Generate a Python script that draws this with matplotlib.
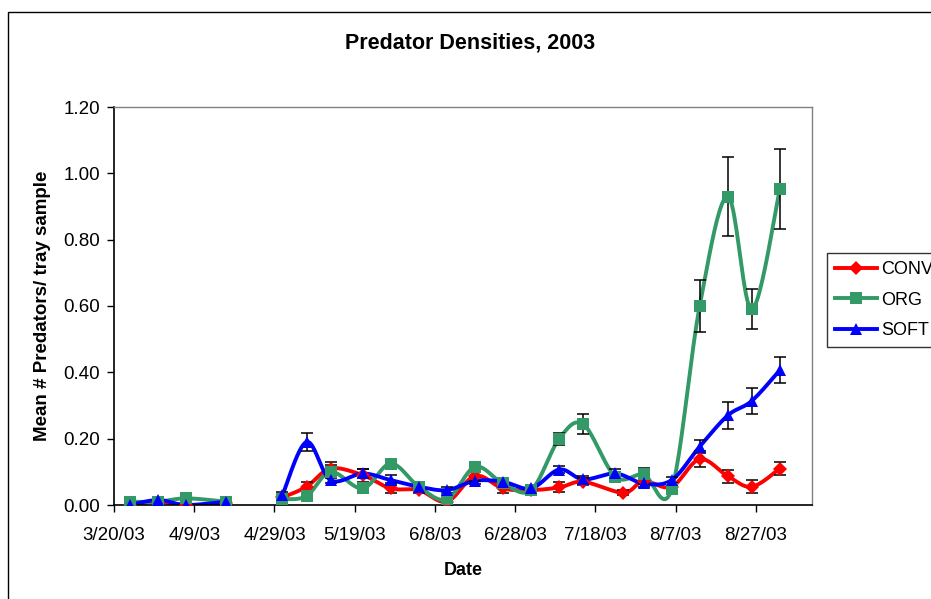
#!/usr/bin/env python3
"""Predator densities by sampling date, 2003 (smoothed lines with SE bars)."""

from datetime import date

import matplotlib.pyplot as plt
import matplotlib.dates as mdates
import numpy as np

plt.rcParams["font.family"] = ["Liberation Sans", "DejaVu Sans"]

# sampling dates (None marks the break in sampling between mid-April and May)
sample_dates = [
    date(2003, 3, 24), date(2003, 3, 31), date(2003, 4, 7), date(2003, 4, 17), None,
    date(2003, 5, 1), date(2003, 5, 7), date(2003, 5, 13), date(2003, 5, 21),
    date(2003, 5, 28), date(2003, 6, 4), date(2003, 6, 11), date(2003, 6, 18),
    date(2003, 6, 25), date(2003, 7, 2), date(2003, 7, 9), date(2003, 7, 15),
    date(2003, 7, 23), date(2003, 7, 30), date(2003, 8, 6), date(2003, 8, 13),
    date(2003, 8, 20), date(2003, 8, 26), date(2003, 9, 2),
]
conv_dates = list(sample_dates)
conv_dates[17] = date(2003, 7, 25)

conv_mean = [0.000, 0.010, 0.000, 0.005, np.nan, 0.023, 0.055, 0.110, 0.090, 0.050, 0.045,
             0.010, 0.088, 0.050, 0.045, 0.053, 0.070, 0.037, 0.072, 0.055, 0.138, 0.087,
             0.055, 0.110]
conv_err = [0.004, 0.004, 0.004, 0.004, np.nan, 0.010, 0.015, 0.020, 0.020, 0.015, 0.010,
            0.010, 0.015, 0.015, 0.010, 0.015, 0.010, 0.008, 0.010, 0.010, 0.024, 0.020,
            0.020, 0.021]

org_mean = [0.010, 0.010, 0.020, 0.010, np.nan, 0.017, 0.027, 0.100, 0.050, 0.125, 0.055,
            0.017, 0.115, 0.065, 0.045, 0.200, 0.243, 0.085, 0.092, 0.047, 0.600, 0.930,
            0.590, 0.953]
org_err = [0.005, 0.005, 0.005, 0.005, np.nan, 0.010, 0.010, 0.020, 0.015, 0.015, 0.010,
           0.010, 0.012, 0.015, 0.010, 0.018, 0.030, 0.010, 0.020, 0.015, 0.078, 0.120,
           0.060, 0.120]

soft_mean = [0.000, 0.015, 0.000, 0.010, np.nan, 0.030, 0.190, 0.075, 0.095, 0.075, 0.055,
             0.045, 0.073, 0.070, 0.050, 0.107, 0.077, 0.095, 0.065, 0.075, 0.176, 0.270,
             0.314, 0.407]
soft_err = [0.005, 0.005, 0.005, 0.005, np.nan, 0.010, 0.027, 0.010, 0.015, 0.015, 0.010,
            0.010, 0.010, 0.010, 0.010, 0.010, 0.010, 0.015, 0.010, 0.010, 0.020, 0.040,
            0.040, 0.040]

series_names = ["CONV", "ORG", "SOFT"]
series_colors = ["#FF0000", "#339966", "#0000FF"]
series_markers = ["D", "s", "^"]

x_start = date(2003, 3, 20)
x_end = date(2003, 9, 10)
y_ticks = [0.0, 0.2, 0.4, 0.6, 0.8, 1.0, 1.2]


def smooth(x, y, n=24):
    """Catmull-Rom style smoothing through every point (spreadsheet 'smoothed line')."""
    x = np.asarray(x, float)
    y = np.asarray(y, float)
    if len(x) < 3:
        return x, y
    px = np.concatenate([[x[0]], x, [x[-1]]])
    py = np.concatenate([[y[0]], y, [y[-1]]])
    t = np.linspace(0, 1, n)[:, None]
    xs, ys = [], []
    for i in range(1, len(px) - 2):
        p0x, p1x, p2x, p3x = px[i - 1], px[i], px[i + 1], px[i + 2]
        p0y, p1y, p2y, p3y = py[i - 1], py[i], py[i + 1], py[i + 2]
        c1x, c1y = p1x + (p2x - p0x) / 6, p1y + (p2y - p0y) / 6
        c2x, c2y = p2x - (p3x - p1x) / 6, p2y - (p3y - p1y) / 6
        b = [(1 - t) ** 3, 3 * (1 - t) ** 2 * t, 3 * (1 - t) * t ** 2, t ** 3]
        xs.append((b[0] * p1x + b[1] * c1x + b[2] * c2x + b[3] * p2x).ravel())
        ys.append((b[0] * p1y + b[1] * c1y + b[2] * c2y + b[3] * p2y).ravel())
    return np.concatenate(xs), np.concatenate(ys)


def segments(dates, values):
    """Split a series at its missing values."""
    out, cur = [], []
    for d, v in zip(dates, values):
        if d is None or np.isnan(v):
            if cur:
                out.append(cur)
            cur = []
        else:
            cur.append((mdates.date2num(d), v))
    if cur:
        out.append(cur)
    return out


fig = plt.figure(figsize=(9.31, 5.99), dpi=100)
ax = fig.add_axes([114 / 931, 1 - 505 / 599, (812 - 114) / 931, (505 - 107) / 599])

all_dates = [conv_dates, sample_dates, sample_dates]
all_means = [conv_mean, org_mean, soft_mean]
all_errs = [conv_err, org_err, soft_err]

handles = []
for name, color, marker, dts, mean, err in zip(series_names, series_colors, series_markers,
                                                all_dates, all_means, all_errs):
    for seg in segments(dts, mean):
        sx, sy = zip(*seg)
        cx, cy = smooth(sx, sy)
        ax.plot(cx, cy, color=color, lw=2.8, solid_capstyle="round", zorder=2)
    xs = [mdates.date2num(d) for d, v in zip(dts, mean) if d is not None and not np.isnan(v)]
    ys = [v for d, v in zip(dts, mean) if d is not None and not np.isnan(v)]
    es = [e for d, v, e in zip(dts, mean, err) if d is not None and not np.isnan(v)]
    ax.errorbar(xs, ys, yerr=es, fmt="none", ecolor="black", elinewidth=1.1,
                capsize=4.5, capthick=1.1, zorder=3)
    msize = 7 if marker == "D" else 8
    ax.plot(xs, ys, linestyle="none", marker=marker, color=color,
            markersize=msize, markeredgewidth=0, zorder=4)
    handles.append(plt.Line2D([], [], color=color, lw=2.8, marker=marker,
                              markersize=msize, markeredgewidth=0))

tick_dates = [mdates.date2num(x_start) + 20 * i for i in range(9)]
tick_labels = []
for t in tick_dates:
    d = mdates.num2date(t)
    tick_labels.append(f"{d.month}/{d.day}/{d:%y}")
ax.set_xticks(tick_dates)
ax.set_xticklabels(tick_labels)
ax.set_xlim(mdates.date2num(x_start), mdates.date2num(x_end))

ax.set_ylim(0, 1.2)
ax.set_yticks(y_ticks)
ax.set_yticklabels([f"{v:.2f}" for v in y_ticks])

ax.tick_params(axis="both", direction="out", length=5, width=1, labelsize=13.5,
               color="black", pad=5)
ax.tick_params(axis="x", pad=11)
for side in ("left", "bottom"):
    ax.spines[side].set_color("black")
    ax.spines[side].set_linewidth(1.2)
for side in ("top", "right"):
    ax.spines[side].set_color("#808080")
    ax.spines[side].set_linewidth(1.0)

ax.set_xlabel("Date", fontsize=13, fontweight="bold", labelpad=13)
ax.set_ylabel("Mean # Predators/ tray sample", fontsize=13.5, fontweight="bold", labelpad=9)
fig.text(470 / 931, 1 - 43 / 599, "Predator Densities, 2003", ha="center", va="center",
         fontsize=15.5, fontweight="bold")

leg = fig.legend(handles, series_names, loc="upper left",
                 bbox_to_anchor=(827 / 931, 1 - 253 / 599), frameon=True, fancybox=False,
                 edgecolor="black", fontsize=13, handlelength=2.3, handletextpad=0.25,
                 borderpad=0.45, labelspacing=0.75, borderaxespad=0)
leg.get_frame().set_linewidth(1.0)

# outer chart frame, running off the right and bottom edges
fig.add_artist(plt.Rectangle((8 / 931, -0.1), 1.2, 1.1 - 12 / 599, transform=fig.transFigure,
                             fill=False, edgecolor="black", linewidth=1.0))

fig.savefig("out.png", dpi=100)
plt.close(fig)
